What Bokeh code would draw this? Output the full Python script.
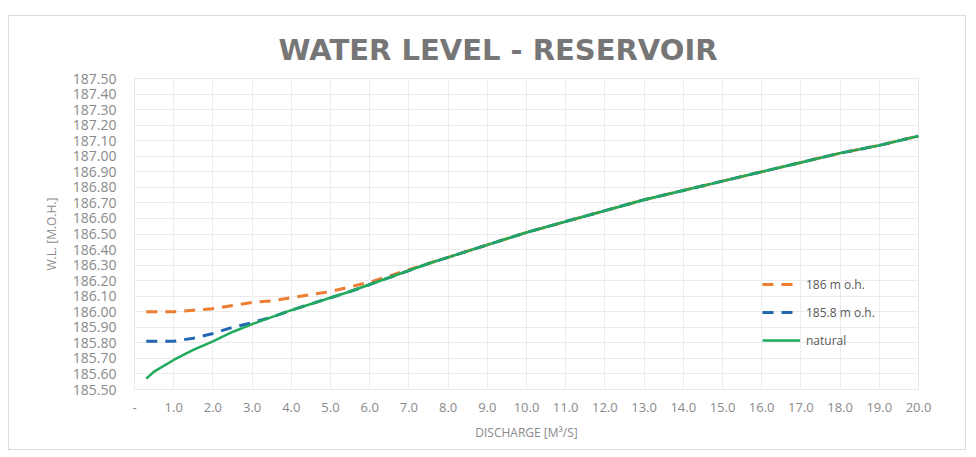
from bokeh.plotting import figure
from bokeh.models import FixedTicker, PrintfTickFormatter, Legend, LegendItem, Range1d
from bokeh.embed import file_html
from bokeh.resources import INLINE

# ---- data ----
discharge = [0.3, 0.5, 1.0, 1.5, 2.0, 2.5, 3.0, 3.5, 4.0, 4.5, 5.0, 5.5, 6.0, 6.5, 7.0, 7.5,
             8.0, 9.0, 10.0, 11.0, 12.0, 13.0, 14.0, 15.0, 16.0, 17.0, 18.0, 19.0, 20.0]
natural = [185.57, 185.615, 185.69, 185.755, 185.81, 185.87, 185.92, 185.965, 186.01, 186.05,
           186.09, 186.13, 186.175, 186.22, 186.265, 186.31, 186.35, 186.43, 186.51, 186.58,
           186.65, 186.72, 186.78, 186.84, 186.90, 186.96, 187.02, 187.07, 187.13]
level_186 = [186.00, 186.00, 186.00, 186.01, 186.02, 186.04, 186.06, 186.07, 186.09, 186.11,
             186.13, 186.16, 186.19, 186.23, 186.27, 186.31, 186.35, 186.43, 186.51, 186.58,
             186.65, 186.72, 186.78, 186.84, 186.90, 186.96, 187.02, 187.07, 187.13]
level_1858 = [185.81, 185.81, 185.81, 185.83, 185.86, 185.90, 185.93, 185.965, 186.01, 186.05,
              186.09, 186.13, 186.175, 186.22, 186.265, 186.31, 186.35, 186.43, 186.51, 186.58,
              186.65, 186.72, 186.78, 186.84, 186.90, 186.96, 187.02, 187.07, 187.13]

series_names = ["186 m o.h.", "185.8 m o.h.", "natural"]
x_ticks = [0, 1, 2, 3, 4, 5, 6, 7, 8, 9, 10, 11, 12, 13, 14, 15, 16, 17, 18, 19, 20]
y_ticks = [185.5, 185.6, 185.7, 185.8, 185.9, 186.0, 186.1, 186.2, 186.3, 186.4, 186.5,
           186.6, 186.7, 186.8, 186.9, 187.0, 187.1, 187.2, 187.3, 187.4, 187.5]

TICK_COLOR = "#8a8a8a"

p = figure(width=958, height=435, output_backend="svg", toolbar_location=None,
           x_range=Range1d(0, 20), y_range=Range1d(185.5, 187.5),
           title="WATER LEVEL - RESERVOIR",
           min_border_left=125, min_border_right=49, min_border_top=62, min_border_bottom=62,
           styles={"border": "1px solid #dcdcdc", "position": "relative",
                   "left": "8px", "top": "15px"})

p.title.align = "left"
p.title.offset = 144
p.title.text_font = "DejaVu Sans"
p.title.text_font_style = "bold"
p.title.text_font_size = "29px"
p.title.text_color = "#767676"
p.title.standoff = 24

p.outline_line_color = "#e8e8e8"
p.background_fill_color = "white"
p.border_fill_color = "white"

# axes
p.xaxis.ticker = FixedTicker(ticks=x_ticks)
p.xaxis.formatter = PrintfTickFormatter(format="%.1f")
p.xaxis.major_label_overrides = {0: "-"}
p.yaxis.ticker = FixedTicker(ticks=y_ticks)
p.yaxis.formatter = PrintfTickFormatter(format="%.2f")

for ax in (p.xaxis, p.yaxis):
    ax.axis_line_color = None
    ax.major_tick_line_color = None
    ax.minor_tick_line_color = None
    ax.major_tick_out = 0
    ax.major_tick_in = 0
    ax.minor_tick_out = 0
    ax.minor_tick_in = 0
    ax.major_label_text_color = TICK_COLOR
    ax.major_label_text_font = "Open Sans"
    ax.axis_label_text_color = TICK_COLOR
    ax.axis_label_text_font = "Open Sans"
    ax.axis_label_text_font_style = "normal"
    ax.axis_label_text_font_size = "12px"

p.xaxis.major_label_text_font_size = "13px"
p.yaxis.major_label_text_font_size = "14px"
p.xaxis.major_label_standoff = 13
p.yaxis.major_label_standoff = 18
p.xaxis.axis_label = "DISCHARGE [M³/S]"
p.yaxis.axis_label = "W.L. [M.O.H.]"
p.xaxis.axis_label_standoff = 9
p.yaxis.axis_label_standoff = 10

p.xgrid.ticker = FixedTicker(ticks=x_ticks)
p.ygrid.ticker = FixedTicker(ticks=y_ticks)
p.xgrid.grid_line_color = "#ebebeb"
p.ygrid.grid_line_color = "#ebebeb"

# lines
r1 = p.line(discharge, level_186, line_color="#ED7D31", line_width=3, line_dash="11 8")
r2 = p.line(discharge, level_1858, line_color="#2267B0", line_width=3, line_dash="11 8")
r3 = p.line(discharge, natural, line_color="#1FAA5C", line_width=2.5)

legend = Legend(items=[LegendItem(label=series_names[0], renderers=[r1]),
                       LegendItem(label=series_names[1], renderers=[r2]),
                       LegendItem(label=series_names[2], renderers=[r3])],
                location=(628, 39), orientation="vertical")
legend.glyph_width = 38
legend.glyph_height = 20
legend.spacing = 8
legend.padding = 0
legend.margin = 0
legend.label_standoff = 6
legend.label_text_font = "Open Sans"
legend.label_text_font_size = "12px"
legend.label_text_color = "#595959"
legend.background_fill_alpha = 0
legend.border_line_alpha = 0
p.add_layout(legend, "center")

open("out.html", "w").write(file_html(p, INLINE))
